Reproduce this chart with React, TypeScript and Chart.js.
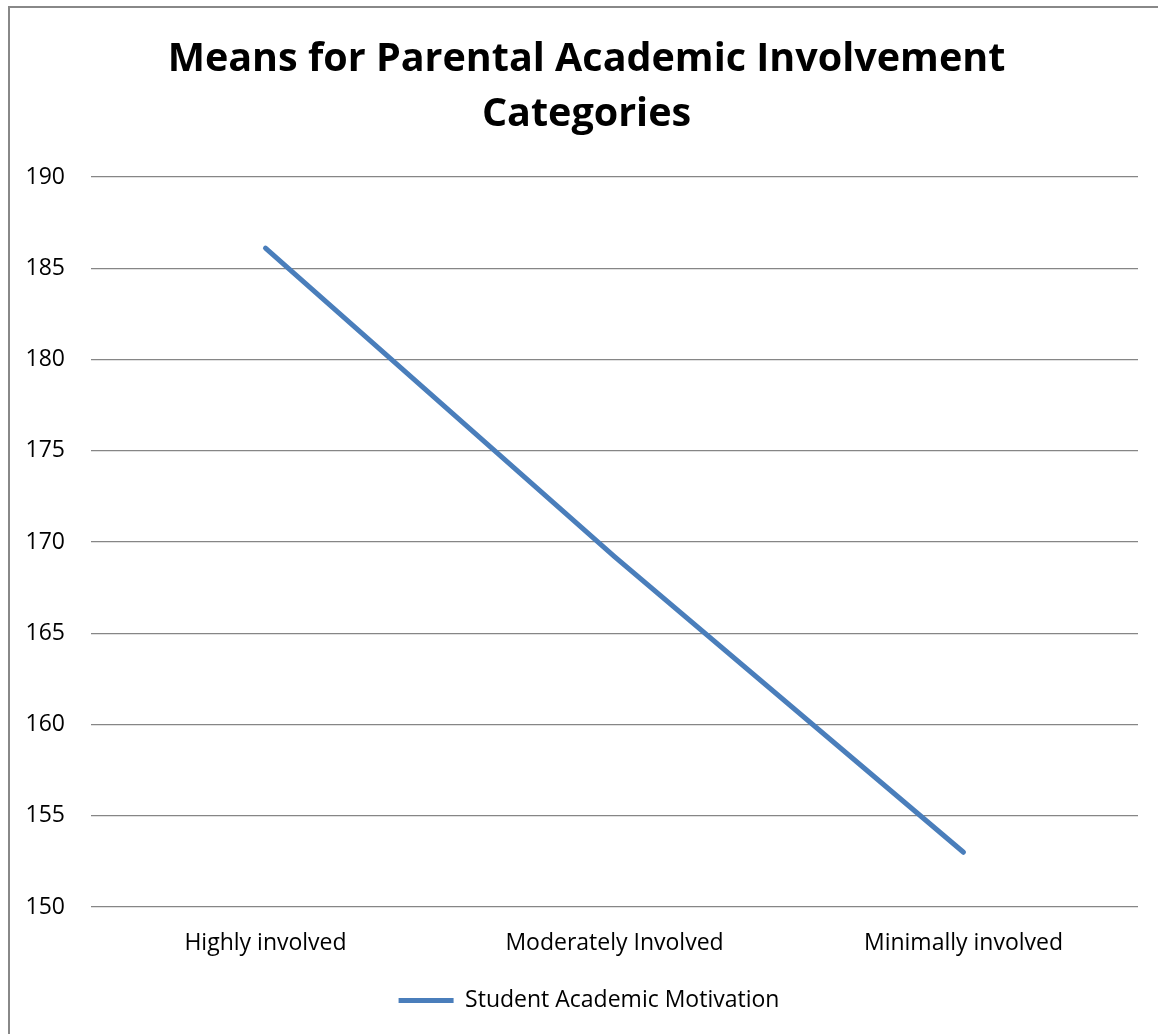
import React, { useEffect, useRef } from "react";
import { Chart, registerables } from "chart.js";

Chart.register(...registerables);

const categories = ["Highly involved", "Moderately Involved", "Minimally involved"];
const motivation = [186.1, 169.2, 153.0];
const seriesName = "Student Academic Motivation";
const titleLines = ["Means for Parental Academic Involvement", "Categories"];
const yMin = 150;
const yMax = 190;
const yStep = 5;

const FONT = "'Open Sans', 'DejaVu Sans', sans-serif";

const legendShift = {
  id: "legendShift",
  afterLayout(chart: any) {
    const lg = chart.legend;
    if (lg) {
      lg.left += 20;
      lg.right += 20;
    }
  },
};

export default function App() {
  const ref = useRef<HTMLCanvasElement | null>(null);

  useEffect(() => {
    if (!ref.current) return;
    const chart = new Chart(ref.current, {
      type: "line",
      data: {
        labels: categories,
        datasets: [
          {
            label: seriesName,
            data: motivation,
            borderColor: "#4A7EBB",
            backgroundColor: "#4A7EBB",
            borderWidth: 5,
            pointRadius: 0,
            tension: 0,
            borderCapStyle: "round",
            borderJoinStyle: "round",
            fill: false,
          },
        ],
      },
      options: {
        responsive: false,
        animation: false,
        layout: { padding: { left: 0, right: 20, top: 177, bottom: 12 } },
        plugins: {
          title: { display: false },
          legend: {
            display: true,
            position: "bottom",
            labels: {
              usePointStyle: true,
              pointStyle: "line",
              pointStyleWidth: 55,
              color: "#000",
              font: { family: FONT, size: 23 },
              padding: 10,
            },
          },
          tooltip: { enabled: false },
        },
        scales: {
          x: {
            offset: true,
            grid: { display: false, drawTicks: false },
            border: { display: false },
            ticks: { color: "#000", font: { family: FONT, size: 23 }, padding: 23, maxRotation: 0 },
            afterFit: (scale: any) => {
              scale.height = 72;
            },
          },
          y: {
            min: yMin,
            max: yMax,
            grid: { color: "#868686", lineWidth: 1.2, drawTicks: false },
            border: { display: false },
            ticks: { stepSize: yStep, color: "#000", font: { family: FONT, size: 23 }, padding: 26 },
            afterFit: (scale: any) => {
              scale.width = 91;
            },
          },
        },
      },
      plugins: [legendShift],
    });
    return () => chart.destroy();
  }, []);

  return (
    <div>
      <div
        style={{
          position: "absolute",
          left: 8,
          top: 6,
          width: 1148,
          height: 1026,
          borderLeft: "2px solid #888",
          borderTop: "2px solid #888",
          boxSizing: "content-box",
        }}
      />
      <div style={{ position: "absolute", left: 0, top: 0, width: 1158, height: 1034 }}>
        <canvas ref={ref} width={1158} height={1034} />
      </div>
      <div
        style={{
          position: "absolute",
          left: 0,
          top: 29,
          width: 1173,
          textAlign: "center",
          fontFamily: FONT,
          fontWeight: "bold",
          fontSize: "39.5px",
          lineHeight: "55px",
          color: "#000",
          margin: 0,
        }}
      >
        {titleLines.map((t) => (
          <div key={t}>{t}</div>
        ))}
      </div>
    </div>
  );
}
